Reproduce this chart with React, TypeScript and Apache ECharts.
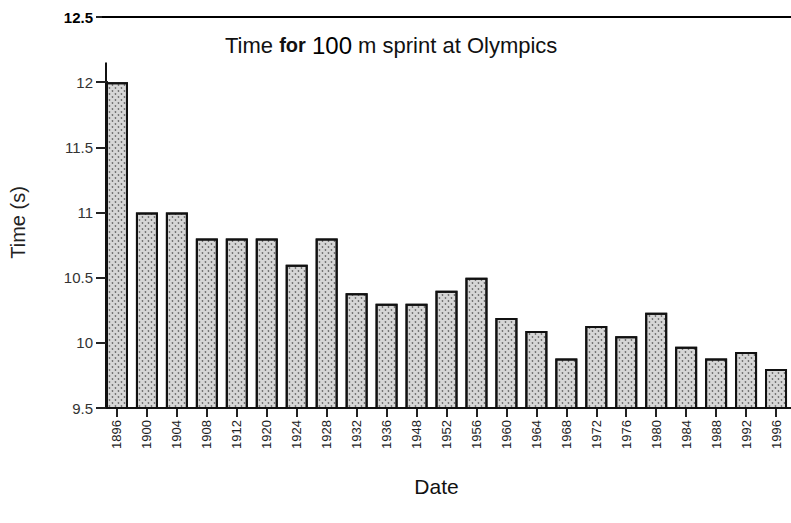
import React, { useEffect, useRef } from "react";
import * as echarts from "echarts";

const categories = ["1896", "1900", "1904", "1908", "1912", "1920", "1924", "1928", "1932", "1936", "1948", "1952", "1956", "1960", "1964", "1968", "1972", "1976", "1980", "1984", "1988", "1992", "1996"];
const times = [12.0, 11.0, 11.0, 10.8, 10.8, 10.8, 10.6, 10.8, 10.38, 10.3, 10.3, 10.4, 10.5, 10.19, 10.09, 9.88, 10.13, 10.05, 10.23, 9.97, 9.88, 9.93, 9.8];
const yMin = 9.5;
const yMax = 12.5;
const yStep = 0.5;
const axisLineTop = 12.15;

const FONT = '"Liberation Sans", Arial, Helvetica, sans-serif';

export default function App() {
  const ref = useRef<HTMLDivElement>(null);
  useEffect(() => {
    document.body.style.margin = "0";
    const chart = echarts.init(ref.current!, undefined, { renderer: "svg" });
    const gridLeft = 100;
    const axisShift = 6;
    chart.setOption({
      animation: false,
      backgroundColor: "#ffffff",
      title: {
        text: "Time {b|for} {c|100} m sprint at Olympics",
        left: 220,
        top: 28,
        textStyle: {
          fontFamily: FONT,
          fontSize: 22,
          fontWeight: "normal",
          color: "#111",
          rich: {
            b: { fontFamily: FONT, fontSize: 20, fontWeight: "bold", color: "#111" },
            c: { fontFamily: FONT, fontSize: 24, color: "#000" },
          },
        },
      },
      grid: { left: gridLeft, top: 17, width: 693, height: 391, containLabel: false },
      xAxis: {
        type: "category",
        data: categories,
        boundaryGap: true,
        name: "Date",
        nameLocation: "middle",
        nameGap: 68,
        nameTextStyle: { fontFamily: FONT, fontSize: 21, color: "#111", padding: [0, 20, 0, 0] },
        axisLine: { show: true, lineStyle: { color: "#111", width: 2 } },
        axisTick: { show: true, alignWithLabel: true, length: 9, lineStyle: { color: "#222", width: 2 } },
        axisLabel: { rotate: 90, fontFamily: FONT, fontSize: 13, color: "#222", margin: 12 },
        splitLine: { show: false },
      },
      yAxis: {
        type: "value",
        min: yMin,
        max: yMax,
        interval: yStep,
        offset: -axisShift,
        name: "Time (s)",
        nameLocation: "middle",
        nameGap: 80,
        nameTextStyle: { fontFamily: FONT, fontSize: 20, color: "#222", padding: [0, 20, 0, 0] },
        axisLine: { show: true, lineStyle: { color: "rgba(0,0,0,0)", width: 1 } },
        axisTick: { show: true, inside: false, length: 12, lineStyle: { color: "#222", width: 2 } },
        axisLabel: {
          fontFamily: FONT,
          fontSize: 15,
          color: "#333",
          margin: 15,
          formatter: (v: number) => (v === yMax ? "{t|12.5}" : String(v)),
          rich: { t: { fontFamily: FONT, fontSize: 15, fontWeight: "bold", color: "#000" } },
        },
        splitLine: { show: false },
      },
      series: [
        {
          type: "bar",
          data: times,
          barWidth: 22,
          itemStyle: {
            color: "#d6d6d6",
            borderColor: "#111",
            borderWidth: 2,
            decal: {
              symbol: "circle",
              symbolSize: 0.8,
              color: "rgba(0,0,0,0.5)",
              dashArrayX: [[3, 3], [0, 3, 3, 0]],
              dashArrayY: [2, 1],
            },
          },
          markLine: {
            silent: true,
            symbol: "none",
            label: { show: false },
            lineStyle: { color: "#000", width: 2, type: "solid" },
            data: [{ yAxis: yMax }],
          },
        },
      ],
    });
    const yTop = chart.convertToPixel({ yAxisIndex: 0 }, axisLineTop) as number;
    const yBottom = chart.convertToPixel({ yAxisIndex: 0 }, yMin) as number;
    const x = gridLeft + axisShift;
    chart.setOption({
      graphic: [
        {
          type: "line",
          shape: { x1: x, y1: yTop, x2: x, y2: yBottom },
          style: { stroke: "#111", lineWidth: 2 },
        },
      ],
    });
    return () => chart.dispose();
  }, []);
  return <div ref={ref} style={{ width: 791, height: 523 }} />;
}
